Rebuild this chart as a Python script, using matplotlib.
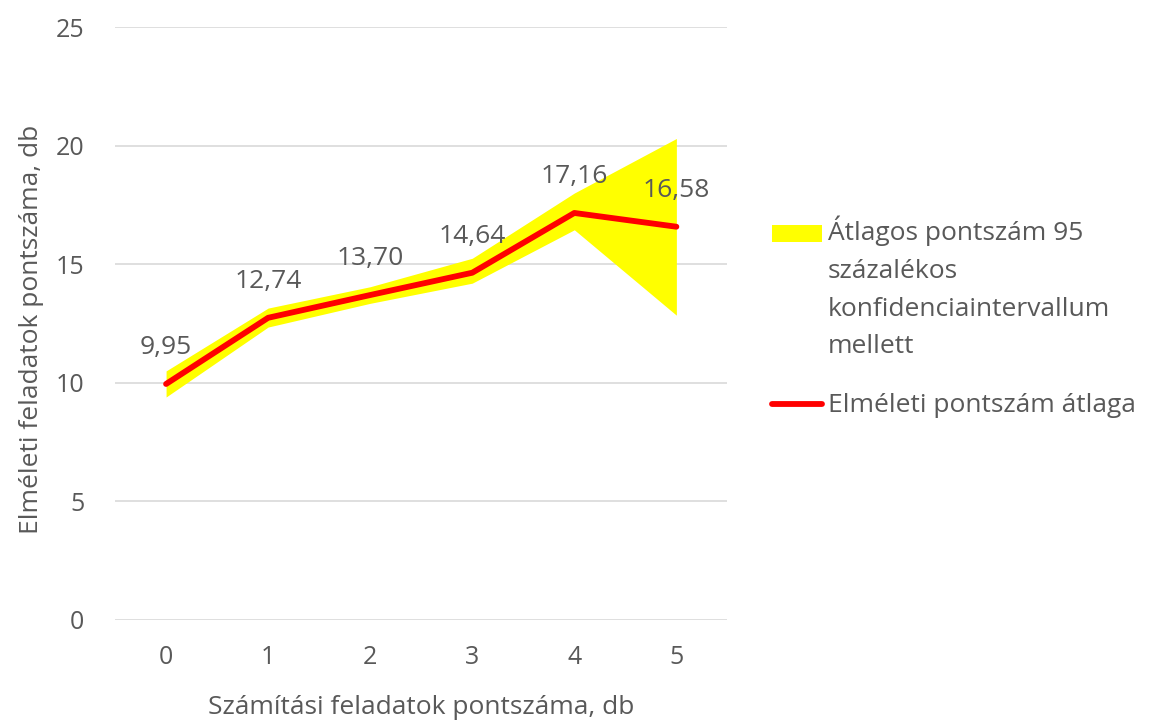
import numpy as np
import matplotlib.pyplot as plt
from matplotlib.patches import Rectangle
from matplotlib.lines import Line2D

plt.rcParams['font.family'] = ['Open Sans', 'DejaVu Sans']

# adatok
pontszam = [0, 1, 2, 3, 4, 5]
atlag = [9.95, 12.74, 13.70, 14.64, 17.16, 16.58]
also = [9.40, 12.35, 13.35, 14.20, 16.45, 12.85]
felso = [10.50, 13.15, 14.05, 15.25, 18.00, 20.30]
yticks = [0, 5, 10, 15, 20, 25]
jelmagyarazat = ['Átlagos pontszám 95\nszázalékos\nkonfidenciaintervallum\nmellett',
                 'Elméleti pontszám átlaga']

szurke = '#595959'
sarga = '#ffff00'
piros = '#ff0000'

fig = plt.figure(figsize=(11.62, 7.22), dpi=100)
ax = fig.add_axes([0.099, 0.1413, 0.527, 0.8213])

ax.fill_between(pontszam, also, felso, color=sarga, linewidth=0, zorder=2)
ax.plot(pontszam, atlag, color=piros, linewidth=4.2, solid_capstyle='round', zorder=3)

for x, y in zip(pontszam, atlag):
    ax.annotate(f'{y:.2f}'.replace('.', ','), (x, y), xytext=(0, 26),
                textcoords='offset points', ha='center', va='center',
                fontsize=19, color=szurke, zorder=4)

ax.set_xlim(-0.5, 5.5)
ax.set_ylim(0, 25)
ax.set_xticks(pontszam)
ax.set_yticks(yticks)
ax.tick_params(axis='x', length=0, labelsize=18, colors=szurke, pad=18)
ax.tick_params(axis='y', length=0, labelsize=18, colors=szurke, pad=22)
ax.grid(axis='y', color='#d9d9d9', linewidth=1.2, zorder=0)
ax.set_axisbelow(True)
for s in ax.spines.values():
    s.set_visible(False)

ax.set_xlabel('Számítási feladatok pontszáma, db', fontsize=19, color=szurke)
ax.set_ylabel('Elméleti feladatok pontszáma, db', fontsize=19, color=szurke)
ax.xaxis.set_label_coords(0.5, -0.147)
ax.xaxis.label.set_va('center')
ax.yaxis.set_label_coords(-0.137, 0.49)
ax.yaxis.label.set_va('center')

# jelmagyarazat kezzel
W, H = 1162, 722
fig.patches.append(Rectangle((772 / W, 1 - 242 / H), 50 / W, 17 / H,
                             transform=fig.transFigure, facecolor=sarga,
                             edgecolor='none'))
fig.lines.append(Line2D([772 / W, 822 / W], [1 - 404 / H, 1 - 404 / H],
                        transform=fig.transFigure, color=piros, linewidth=4.2,
                        solid_capstyle='round'))
fig.text(828 / W, 1 - 216 / H, jelmagyarazat[0], ha='left', va='top',
         fontsize=19, color=szurke, linespacing=1.66)
fig.text(828 / W, 1 - 406 / H, jelmagyarazat[1], ha='left', va='center',
         fontsize=19, color=szurke)

fig.savefig('out.png', dpi=100)
